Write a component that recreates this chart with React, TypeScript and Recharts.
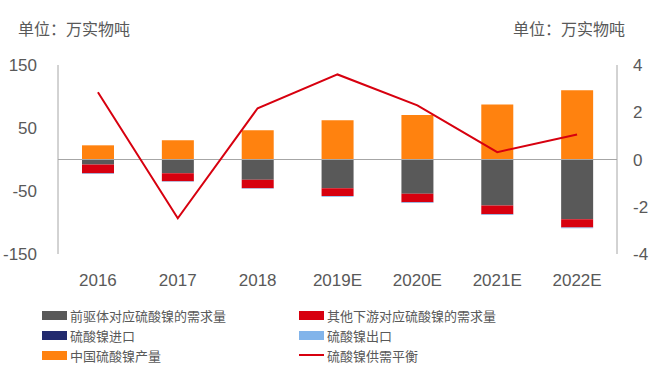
import {
  ComposedChart,
  Bar,
  Line,
  XAxis,
  YAxis,
  ReferenceLine,
} from "recharts";

const years = ["2016", "2017", "2018", "2019E", "2020E", "2021E", "2022E"];
const precursorDemand = [-8, -22, -32, -45.5, -54.5, -73, -95];
const otherDemand = [-14, -12.5, -13.5, -12.5, -13.5, -14, -13];
const imports = [0.5, 0.5, 0.5, 0.5, 0.5, 0.5, 0.5];
const exports = [-1, -1, -1, -1, -1, -1, -1];
const production = [22, 30, 46, 62, 70, 87, 109.5];
const balance = [2.85, -2.49, 2.17, 3.6, 2.29, 0.31, 1.06];

const leftTicks = [-150, -50, 50, 150];
const rightTicks = [-4, -2, 0, 2, 4];

const data = years.map((y, i) => ({
  year: y,
  precursor: precursorDemand[i],
  other: otherDemand[i],
  imp: imports[i],
  exp: exports[i],
  prod: production[i],
  balance: balance[i],
}));

const FONT = "'Liberation Sans', 'Noto Sans CJK SC', sans-serif";
const CJK = "'Noto Sans CJK SC', sans-serif";
const TXT = "#595959";

const legendItems = [
  { label: "前驱体对应硫酸镍的需求量", color: "#595959", line: false },
  { label: "其他下游对应硫酸镍的需求量", color: "#d7000f", line: false },
  { label: "硫酸镍进口", color: "#222a6e", line: false },
  { label: "硫酸镍出口", color: "#82b4ea", line: false },
  { label: "中国硫酸镍产量", color: "#ff820f", line: false },
  { label: "硫酸镍供需平衡", color: "#d7000f", line: true },
];

export default function App() {
  return (
    <div style={{ position: "absolute", left: 0, top: 0, width: 659, height: 376, background: "#fff", fontFamily: FONT }}>
      <div style={{ position: "absolute", left: 18, top: 16, fontSize: 16, color: TXT, fontFamily: CJK }}>单位：万实物吨</div>
      <div style={{ position: "absolute", left: 513, top: 16, fontSize: 16, color: TXT, fontFamily: CJK }}>单位：万实物吨</div>
      <ComposedChart
        width={659}
        height={376}
        data={data}
        stackOffset="sign"
        margin={{ top: 65, right: 0, bottom: 92, left: 0 }}
        barCategoryGap={0}
      >
        <XAxis
          dataKey="year"
          axisLine={false}
          tickLine={false}
          height={30}
          tick={{ fill: TXT, fontSize: 17, fontFamily: FONT }}
          dy={12}
        />
        <YAxis
          yAxisId="left"
          domain={[-150, 150]}
          ticks={leftTicks}
          width={58}
          stroke="#a6a6a6"
          tickSize={0}
          tickMargin={21}
          tick={{ fill: TXT, fontSize: 17, fontFamily: FONT }}
        />
        <YAxis
          yAxisId="right"
          orientation="right"
          domain={[-4, 4]}
          ticks={rightTicks}
          width={42}
          stroke="#a6a6a6"
          tickSize={0}
          tickMargin={16}
          tick={{ fill: TXT, fontSize: 17, fontFamily: FONT }}
        />
        <ReferenceLine yAxisId="left" y={0} stroke="#a6a6a6" />
        <Bar yAxisId="left" dataKey="precursor" stackId="s" fill="#595959" barSize={32} isAnimationActive={false} />
        <Bar yAxisId="left" dataKey="other" stackId="s" fill="#d7000f" barSize={32} isAnimationActive={false} />
        <Bar yAxisId="left" dataKey="imp" stackId="s" fill="#222a6e" barSize={32} isAnimationActive={false} />
        <Bar yAxisId="left" dataKey="exp" stackId="s" fill="#82b4ea" barSize={32} isAnimationActive={false} />
        <Bar yAxisId="left" dataKey="prod" stackId="s" fill="#ff820f" barSize={32} isAnimationActive={false} />
        <Line
          yAxisId="right"
          dataKey="balance"
          stroke="#d7000f"
          strokeWidth={2}
          dot={false}
          type="linear"
          isAnimationActive={false}
        />
      </ComposedChart>
      {legendItems.map((it, i) => {
        const col = i % 2;
        const row = Math.floor(i / 2);
        const left = col === 0 ? 42 : 299;
        const top = 306 + row * 20;
        return (
          <div
            key={it.label}
            style={{ position: "absolute", left, top, display: "flex", alignItems: "center", fontSize: 13, color: TXT, height: 18, fontFamily: CJK }}
          >
            <div
              style={{
                width: 25,
                height: it.line ? 2 : 9,
                background: it.color,
                marginRight: 3,
              }}
            />
            <span>{it.label}</span>
          </div>
        );
      })}
    </div>
  );
}
